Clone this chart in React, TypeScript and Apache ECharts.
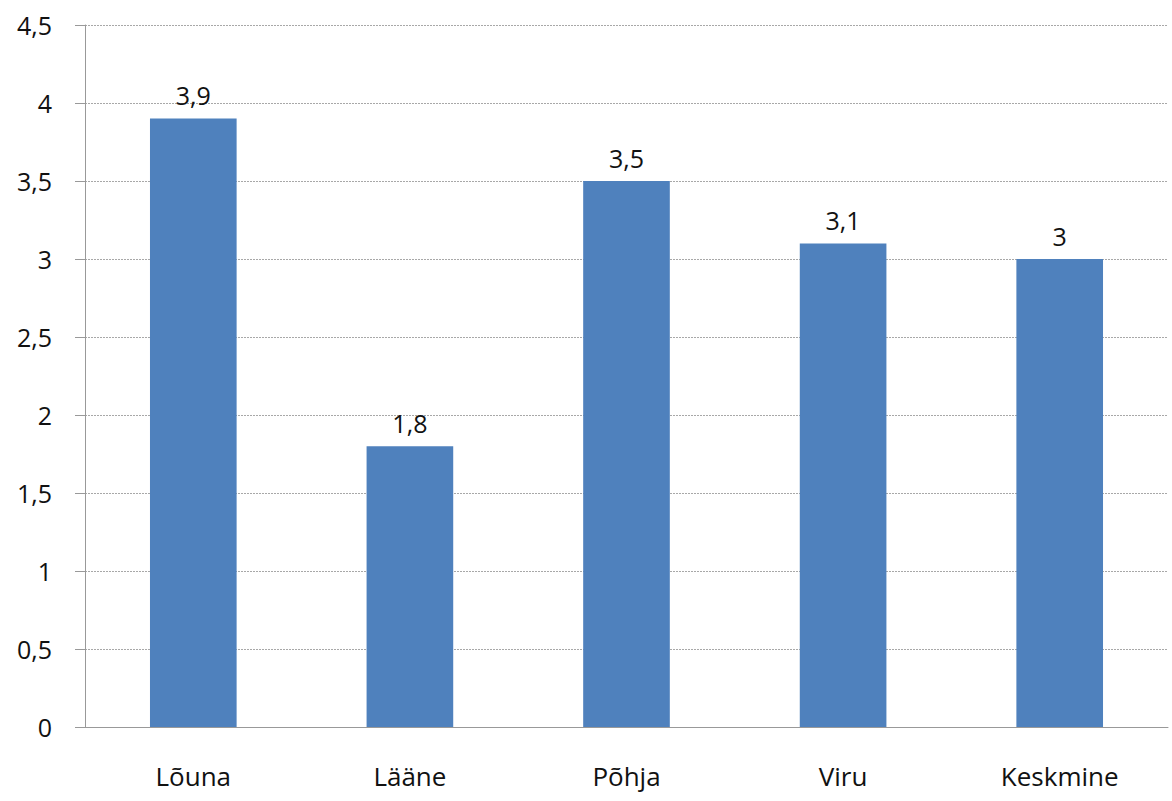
import React, { useEffect, useRef } from "react";
import * as echarts from "echarts";

const categories = ["Lõuna", "Lääne", "Põhja", "Viru", "Keskmine"];
const values = [3.9, 1.8, 3.5, 3.1, 3];

const fmt = (v: number) => String(v).replace(".", ",");

export default function App() {
  const ref = useRef<HTMLDivElement>(null);
  useEffect(() => {
    const chart = echarts.init(ref.current!, undefined, { renderer: "svg" });
    chart.setOption({
      animation: false,
      textStyle: { fontFamily: "Open Sans" },
      grid: { left: 85, right: 4, top: 25, bottom: 74, containLabel: false },
      xAxis: {
        type: "category",
        data: categories,
        axisLine: { lineStyle: { color: "#999" } },
        axisTick: { length: 9, lineStyle: { color: "#999" } },
        axisLabel: { color: "#111", fontSize: 26, margin: 36 },
      },
      yAxis: {
        type: "value",
        min: 0,
        max: 4.5,
        interval: 0.5,
        axisLine: { show: true, lineStyle: { color: "#999" } },
        axisTick: { show: true, length: 10, lineStyle: { color: "#999" } },
        axisLabel: { color: "#111", fontSize: 25, margin: 33, formatter: (v: number) => fmt(v) },
        splitLine: { lineStyle: { color: "#a8a8a8", type: [2, 1] } },
      },
      series: [
        {
          type: "bar",
          data: values,
          barWidth: "40%",
          itemStyle: { color: "#4F81BD" },
          label: {
            show: true,
            position: "top",
            distance: 11,
            color: "#111",
            fontSize: 25,
            formatter: (p: any) => fmt(p.value),
          },
        },
      ],
    });
    return () => chart.dispose();
  }, []);
  return (
    <div
      ref={ref}
      style={{ position: "fixed", left: 0, top: 0, width: 1172, height: 801, background: "#fff" }}
    />
  );
}
